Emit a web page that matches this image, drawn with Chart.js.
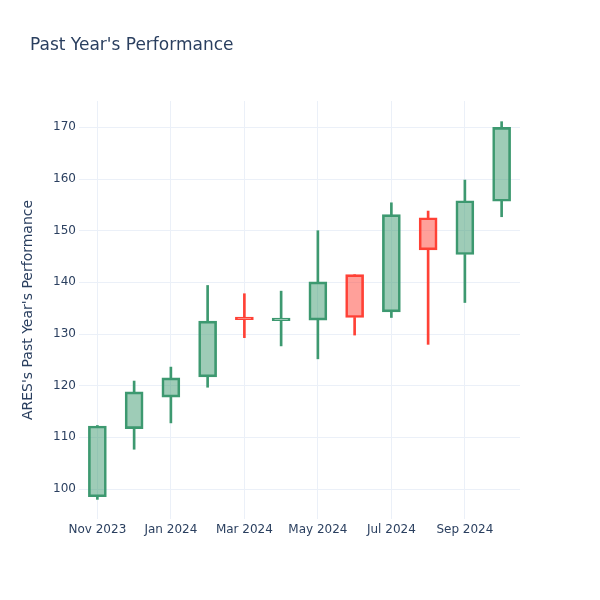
<!DOCTYPE html>
<html>
<head>
<meta charset="utf-8">
<script src="https://cdn.jsdelivr.net/npm/chart.js@4.4.1/dist/chart.umd.min.js"></script>
<style>
  html, body { margin: 0; padding: 0; background: #fff; }
  #wrap { width: 600px; height: 600px; position: relative; }
</style>
</head>
<body>
<div id="wrap"><canvas id="chart"></canvas></div>
<script>
// Datos (mensuales, Nov 2023 - Oct 2024)
const months = ['Nov 2023', 'Dec 2023', 'Jan 2024', 'Feb 2024', 'Mar 2024', 'Apr 2024',
                'May 2024', 'Jun 2024', 'Jul 2024', 'Aug 2024', 'Sep 2024', 'Oct 2024'];
const openVals  = [98.5, 111.7, 117.8, 121.7, 133.3, 132.6, 132.7, 141.5, 134.3, 152.5, 145.4, 155.7];
const highVals  = [112.3, 120.9, 123.6, 139.4, 137.8, 138.3, 150.0, 141.5, 155.4, 153.8, 159.8, 171.1];
const lowVals   = [98.0, 107.7, 112.8, 119.7, 129.3, 127.7, 125.2, 129.8, 133.2, 128.0, 136.1, 152.7];
const closeVals = [112.2, 118.8, 121.5, 132.5, 132.8, 133.1, 140.1, 133.2, 153.1, 146.3, 155.8, 170.0];
const yTicks = [100, 110, 120, 130, 140, 150, 160, 170];

const UP = '#3D9970', UP_FILL = 'rgba(61,153,112,0.5)';
const DOWN = '#FF4136', DOWN_FILL = 'rgba(255,65,54,0.5)';
const isUp = months.map((m, i) => closeVals[i] >= openVals[i]);
const lineColors = months.map((m, i) => isUp[i] ? UP : DOWN);

const bodyLo = months.map((m, i) => Math.min(openVals[i], closeVals[i]));
const bodyHi = months.map((m, i) => Math.max(openVals[i], closeVals[i]));
const bodies = months.map((m, i) => [bodyLo[i], bodyHi[i]]);
// mechas por encima y por debajo del cuerpo (para que no se vean a través del relleno)
const upperWicks = months.map((m, i) => [bodyHi[i], highVals[i]]);
const lowerWicks = months.map((m, i) => [lowVals[i], bodyLo[i]]);

// Título dibujado a mano
const titlePlugin = {
    id: 'titleText',
    afterDraw(chart) {
        const ctx = chart.ctx;
        ctx.save();
        ctx.font = '17px "DejaVu Sans"';
        ctx.fillStyle = '#2a3f5f';
        ctx.textBaseline = 'middle';
        ctx.fillText("Past Year's Performance", 30, 45.5);
        ctx.restore();
    }
};

Chart.defaults.font.family = '"DejaVu Sans"';
Chart.defaults.color = '#2a3f5f';

const wickDataset = (label, data) => ({
    label: label,
    data: data,
    backgroundColor: lineColors,
    borderWidth: 0,
    barThickness: 2,
    grouped: false,
    order: 2
});

new Chart(document.getElementById('chart').getContext('2d'), {
    type: 'bar',
    data: {
        labels: months,
        datasets: [
            wickDataset('upper', upperWicks),
            wickDataset('lower', lowerWicks),
            {
                label: 'body',
                data: bodies,
                backgroundColor: months.map((m, i) => isUp[i] ? UP_FILL : DOWN_FILL),
                borderColor: lineColors,
                borderWidth: 2,
                borderSkipped: false,
                barThickness: 18,
                grouped: false,
                order: 1
            }
        ]
    },
    options: {
        responsive: true,
        maintainAspectRatio: false,
        animation: false,
        layout: { padding: { left: 0, right: 80, top: 101, bottom: 0 } },
        plugins: {
            legend: { display: false },
            tooltip: { enabled: false }
        },
        scales: {
            x: {
                offset: true,
                border: { display: false },
                grid: {
                    offset: false,
                    drawTicks: false,
                    color: c => (c.index % 2 === 0 ? '#EBF0F8' : 'rgba(0,0,0,0)'),
                    lineWidth: 1
                },
                ticks: {
                    autoSkip: false,
                    maxRotation: 0,
                    padding: 4,
                    font: { size: 12 },
                    color: '#2a3f5f',
                    callback: function(v, i) { return i % 2 === 0 ? months[i] : ''; }
                },
                afterFit: s => { s.height = 81; }
            },
            y: {
                min: 94.2,
                max: 175.1,
                border: { display: false },
                afterBuildTicks: s => { s.ticks = yTicks.map(v => ({ value: v })); },
                grid: { color: '#EBF0F8', drawTicks: false },
                ticks: { padding: 3, font: { size: 12 }, color: '#2a3f5f' },
                title: {
                    display: true,
                    text: "ARES's Past Year's Performance",
                    font: { size: 14 },
                    color: '#2a3f5f',
                    padding: { top: 20, bottom: 0 }
                },
                afterFit: s => { s.width = 79; }
            }
        }
    },
    plugins: [titlePlugin]
});
</script>
</body>
</html>
